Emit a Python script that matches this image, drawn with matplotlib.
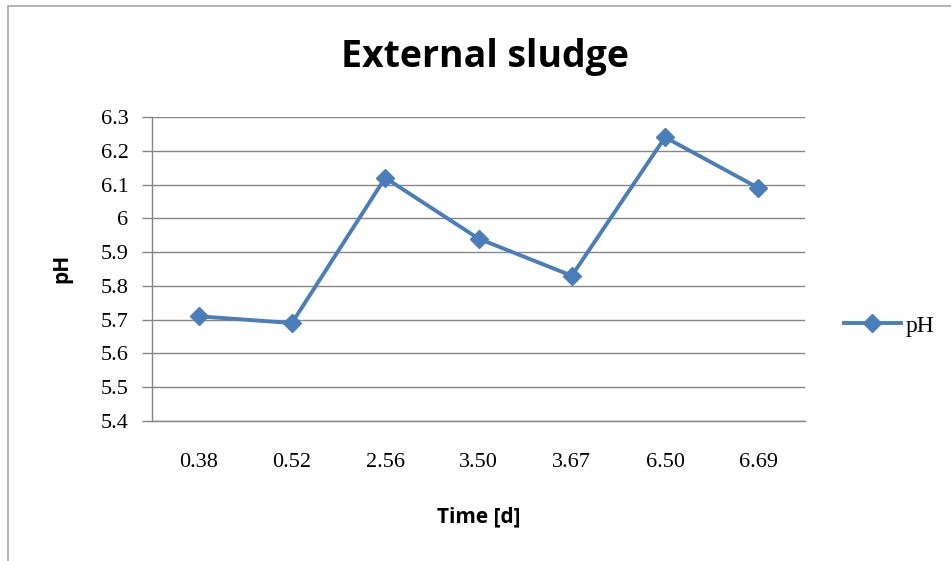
import matplotlib
matplotlib.use("Agg")
import matplotlib.pyplot as plt
from matplotlib.patches import Rectangle

times = ["0.38", "0.52", "2.56", "3.50", "3.67", "6.50", "6.69"]
ph = [5.71, 5.69, 6.12, 5.94, 5.83, 6.24, 6.09]
yticks = [5.4, 5.5, 5.6, 5.7, 5.8, 5.9, 6.0, 6.1, 6.2, 6.3]
ylabels = ["5.4", "5.5", "5.6", "5.7", "5.8", "5.9", "6", "6.1", "6.2", "6.3"]

blue = "#4a7ebb"
grid = "#868686"
serif = "Liberation Serif"
bold = "Open Sans"

fig = plt.figure(figsize=(9.51, 5.61), dpi=100)
fig.patches.append(Rectangle((8 / 951, -0.1), 1.2, 1 - 6 / 561 + 0.1,
                             transform=fig.transFigure, fill=False,
                             edgecolor="#a6a6a6", linewidth=1.2))

ax = fig.add_axes([152 / 951, 1 - 421 / 561, 653 / 951, 304 / 561])
ax.plot(range(len(times)), ph, color=blue, linewidth=2.8,
        marker="D", markersize=9, label="pH")

ax.set_xlim(-0.5, len(times) - 0.5)
ax.set_ylim(5.4, 6.3)
ax.set_yticks(yticks)
ax.set_yticklabels(ylabels, fontfamily=serif, fontsize=16)
ax.set_xticks(range(len(times)))
ax.set_xticklabels(times, fontfamily=serif, fontsize=16)
ax.tick_params(axis="y", length=7, width=1, color=grid, pad=10)
ax.tick_params(axis="x", length=0, pad=23)
ax.yaxis.grid(True, color=grid, linewidth=1)
ax.set_axisbelow(True)
for side in ["top", "right"]:
    ax.spines[side].set_visible(False)
for side in ["left", "bottom"]:
    ax.spines[side].set_color(grid)
    ax.spines[side].set_linewidth(1)

fig.text(485 / 951, 1 - 57 / 561, "External sludge", ha="center", va="center",
         fontfamily=bold, fontweight="bold", fontsize=27)
fig.text(479 / 951, 1 - 517 / 561, "Time [d]", ha="center", va="center",
         fontfamily=bold, fontweight="bold", fontsize=15)
fig.text(62 / 951, 1 - 268 / 561, "pH", ha="center", va="center", rotation=90,
         fontfamily=bold, fontweight="bold", fontsize=15)

ax.legend(loc="center left", bbox_to_anchor=(844 / 951, 1 - 326 / 561),
          bbox_transform=fig.transFigure, frameon=False, borderpad=0,
          borderaxespad=0, handlelength=2.4, handletextpad=0.2,
          prop={"family": serif, "size": 17})

fig.savefig("out.png", dpi=100)
